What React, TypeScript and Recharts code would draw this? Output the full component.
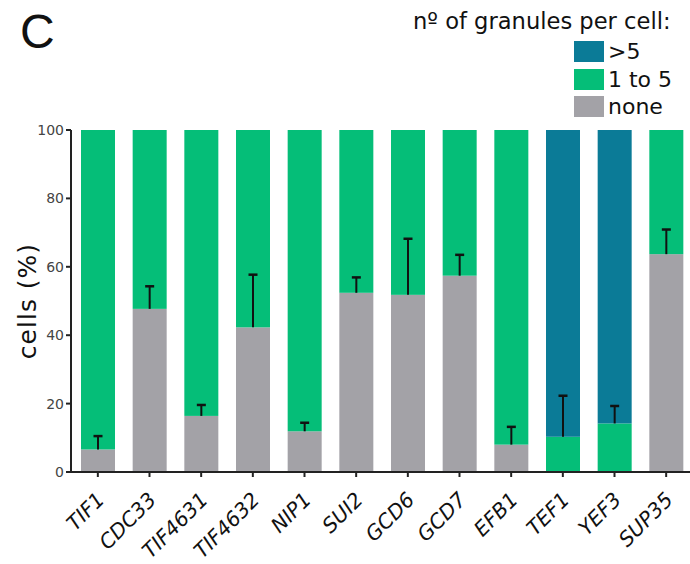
import React from "react";
import { BarChart, Bar, XAxis, YAxis, Label } from "recharts";

const categories = ["TIF1", "CDC33", "TIF4631", "TIF4632", "NIP1", "SUI2", "GCD6", "GCD7", "EFB1", "TEF1", "YEF3", "SUP35"];
const noneValues = [6.6, 47.7, 16.4, 42.3, 11.9, 52.4, 51.8, 57.4, 8.0, 0, 0, 63.7];
const oneToFiveValues = [93.4, 52.3, 83.6, 57.7, 88.1, 47.6, 48.2, 42.6, 92.0, 10.3, 14.2, 36.3];
const moreThanFiveValues = [0, 0, 0, 0, 0, 0, 0, 0, 0, 89.7, 85.8, 0];
const noneErrors = [3.9, 6.6, 3.2, 15.4, 2.5, 4.5, 16.4, 6.1, 5.2, 0, 0, 7.2];
const oneToFiveErrors = [0, 0, 0, 0, 0, 0, 0, 0, 0, 12.0, 5.1, 0];
const yTicks = [0, 20, 40, 60, 80, 100];

const COLORS = { high: "#0B7B97", mid: "#05BE78", none: "#A3A2A7" };
const FONT = "'DejaVu Sans', Verdana, sans-serif";

const data = categories.map((name, i) => ({
  name,
  none: noneValues[i],
  mid: oneToFiveValues[i],
  high: moreThanFiveValues[i],
  errNone: noneErrors[i],
  errMid: oneToFiveErrors[i],
}));

// Draws the segment and, on top of it, the error bar of the segment below
// (which starts at this segment's bottom edge and rises into it).
const makeShape = (valueKey: string, belowErrKey: string | null) => (props: any) => {
  const { x, y, width, height, fill, payload } = props;
  const seg = payload[valueKey];
  const err = belowErrKey ? payload[belowErrKey] : 0;
  const els: any[] = [];
  if (height > 0) {
    els.push(<rect key="r" x={x} y={y} width={width} height={height} fill={fill} />);
  }
  if (err && seg > 0 && height > 0) {
    const ppu = height / seg;
    const base = y + height;
    const top = base - err * ppu;
    const cx = x + width / 2;
    els.push(<line key="s" x1={cx} x2={cx} y1={base} y2={top} stroke="#111" strokeWidth={2} />);
    els.push(<line key="c" x1={cx - 4.5} x2={cx + 4.5} y1={top} y2={top} stroke="#111" strokeWidth={2.5} />);
  }
  return <g>{els}</g>;
};

const XTick = (props: any) => {
  const { x, y, payload } = props;
  return (
    <g transform={`translate(${x + 8},${y + 22})`}>
      <text
        x={0}
        y={0}
        textAnchor="end"
        transform="rotate(-45)"
        fontSize={20.5}
        fontStyle="italic"
        fontFamily={FONT}
        fill="#111"
      >
        {payload.value}
      </text>
    </g>
  );
};

const legendItems = [
  { label: ">5", color: COLORS.high },
  { label: "1 to 5", color: COLORS.mid },
  { label: "none", color: COLORS.none },
];

export default function App() {
  return (
    <div style={{ position: "absolute", left: 0, top: 0, width: 690, height: 564, overflow: "hidden", background: "#fff" }}>
      <div style={{ position: "absolute", left: 20, top: 2, fontFamily: "'Liberation Sans', Arial, sans-serif", fontSize: 48, color: "#111", lineHeight: "60px" }}>
        C
      </div>
      <div style={{ position: "absolute", left: 413, top: 8, fontFamily: FONT, fontSize: 22.6, color: "#111", lineHeight: "26px", whiteSpace: "nowrap" }}>
        nº of granules per cell:
      </div>
      {legendItems.map((it, i) => (
        <div key={it.label} style={{ position: "absolute", left: 574, top: 41 + i * 27.5, display: "flex", alignItems: "center", height: 21 }}>
          <div style={{ width: 30, height: 21, background: it.color }} />
          <span style={{ marginLeft: 4, fontFamily: FONT, fontSize: 22, color: "#111", lineHeight: "21px", whiteSpace: "nowrap" }}>{it.label}</span>
        </div>
      ))}
      <div style={{ position: "absolute", left: 0, top: 0 }}>
        <BarChart width={692} height={564} data={data} margin={{ top: 130, right: 0, bottom: 0, left: 0 }} barSize={34}>
          <XAxis
            dataKey="name"
            interval={0}
            padding={{ left: 1, right: 0 }}
            tickLine={{ stroke: "#222", strokeWidth: 2 }}
            axisLine={{ stroke: "#222", strokeWidth: 2 }}
            tickSize={5}
            tick={<XTick />}
            height={92}
          />
          <YAxis
            width={71}
            domain={[0, 100]}
            ticks={yTicks}
            interval={0}
            tickLine={{ stroke: "#222", strokeWidth: 2 }}
            axisLine={{ stroke: "#222", strokeWidth: 2 }}
            tickSize={5}
            tickMargin={2}
            tick={{ fontSize: 14, fontFamily: FONT, fill: "#444" }}
          >
            <Label
              value="cells (%)"
              angle={-90}
              position="insideLeft"
              offset={27}
              style={{ textAnchor: "middle", fontSize: 25, letterSpacing: 1, fontFamily: FONT, fill: "#111" }}
            />
          </YAxis>
          <Bar dataKey="none" stackId="a" fill={COLORS.none} isAnimationActive={false} shape={makeShape("none", null)} />
          <Bar dataKey="mid" stackId="a" fill={COLORS.mid} isAnimationActive={false} shape={makeShape("mid", "errNone")} />
          <Bar dataKey="high" stackId="a" fill={COLORS.high} isAnimationActive={false} shape={makeShape("high", "errMid")} />
        </BarChart>
      </div>
    </div>
  );
}
